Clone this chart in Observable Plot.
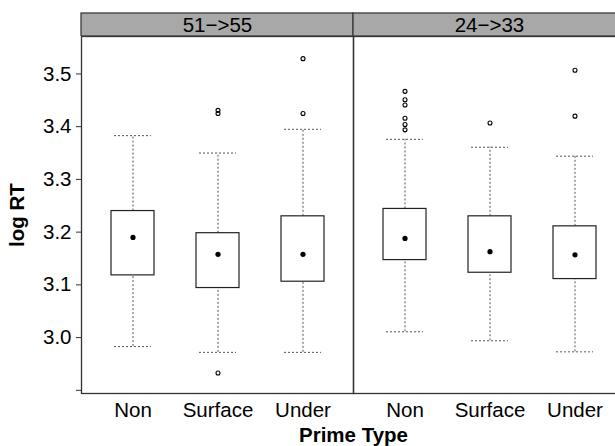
<!DOCTYPE html>
<html><head><meta charset="utf-8">
<script src="https://cdn.jsdelivr.net/npm/d3@7"></script>
<script src="https://cdn.jsdelivr.net/npm/@observablehq/plot@0.6"></script>
<style>
html,body{margin:0;padding:0;background:#fff;overflow:hidden;width:615px;height:446px}
#chart svg{max-width:none !important;display:block;background:transparent}
#chart{font-family:"Liberation Sans",Arial,sans-serif}
#chart [aria-label="y-axis label"], #chart [aria-label="fx-axis label"]{font-weight:bold}
</style></head><body><div id="chart"></div>
<script>
const panels = ["51−>55", "24−>33"];
const primeTypes = ["Non", "Surface", "Under"];
// rows: panels, columns: primeTypes
const whiskerLow  = [[2.983, 2.972, 2.972], [3.011, 2.994, 2.973]];
const quartile1   = [[3.118, 3.094, 3.106], [3.147, 3.123, 3.111]];
const medians     = [[3.190, 3.158, 3.158], [3.188, 3.163, 3.157]];
const quartile3   = [[3.240, 3.198, 3.230], [3.244, 3.230, 3.211]];
const whiskerHigh = [[3.383, 3.350, 3.395], [3.376, 3.361, 3.344]];
const outlierPanel = ["51−>55","51−>55","51−>55","51−>55","51−>55",
  "24−>33","24−>33","24−>33","24−>33","24−>33","24−>33","24−>33","24−>33","24−>33"];
const outlierType = ["Surface","Surface","Surface","Under","Under",
  "Non","Non","Non","Non","Non","Non","Surface","Under","Under"];
const outlierValue = [3.431, 3.425, 2.933, 3.529, 3.425,
  3.467, 3.451, 3.441, 3.416, 3.404, 3.394, 3.407, 3.507, 3.420];
const yTicks = [2.9, 3.0, 3.1, 3.2, 3.3, 3.4, 3.5];
const yTickLabels = ["", "3.0", "3.1", "3.2", "3.3", "3.4", "3.5"];
const yDomain = [2.894, 3.571];

const stats = [];
panels.forEach((p, i) => primeTypes.forEach((t, j) => stats.push({
  panel: p, type: t, lo: whiskerLow[i][j], q1: quartile1[i][j], med: medians[i][j],
  q3: quartile3[i][j], hi: whiskerHigh[i][j]
})));
const outliers = outlierValue.map((v, k) => ({panel: outlierPanel[k], type: outlierType[k], value: v}));

const font = {fontFamily: '"Liberation Sans", Arial, sans-serif', fontSize: "20.5px", background: "transparent"};

const strip = Plot.plot({
  width: 626, height: 36, marginTop: 13, marginBottom: 0, marginLeft: 81, marginRight: 1,
  style: font,
  x: {domain: panels, padding: 0, axis: null},
  marks: [
    Plot.cell(panels, {x: d => d, fill: "#a8a8a8", stroke: "#3a3a3a", strokeWidth: 1.3}),
    Plot.text(panels, {x: d => d, text: d => d, fill: "black", fontSize: 20.5})
  ]
});

const whisk = {stroke: "#555", strokeWidth: 1, strokeDasharray: "2,2"};
const main = Plot.plot({
  width: 626, height: 410, marginTop: 0, marginBottom: 53, marginLeft: 81, marginRight: 1,
  style: font,
  fx: {domain: panels, padding: 0},
  x: {domain: primeTypes, type: "band", paddingInner: 0.5, paddingOuter: 0.35},
  y: {domain: yDomain},
  marks: [
    Plot.ruleX(stats, {fx: "panel", x: "type", y1: "q3", y2: "hi", ...whisk}),
    Plot.ruleX(stats, {fx: "panel", x: "type", y1: "lo", y2: "q1", ...whisk}),
    Plot.tickY(stats, {fx: "panel", x: "type", y: "hi", insetLeft: 3, insetRight: 3, ...whisk}),
    Plot.tickY(stats, {fx: "panel", x: "type", y: "lo", insetLeft: 3, insetRight: 3, ...whisk}),
    Plot.barY(stats, {fx: "panel", x: "type", y1: "q1", y2: "q3", fill: "white", stroke: "#222", strokeWidth: 1.2}),
    Plot.dot(stats, {fx: "panel", x: "type", y: "med", r: 2.6, fill: "black", stroke: "none"}),
    Plot.dot(outliers, {fx: "panel", x: "type", y: "value", r: 2.0, fill: "none", stroke: "black", strokeWidth: 1.1}),
    Plot.frame({stroke: "#333", strokeWidth: 1.3}),
    Plot.axisY(yTicks, {anchor: "left", tickSize: 5, tickPadding: 5, tickFormat: d => yTickLabels[yTicks.indexOf(d)],
      label: "log RT", labelArrow: "none", labelAnchor: "center", labelOffset: 72, stroke: "#333"}),
    Plot.axisX({anchor: "bottom", tickSize: 0, tickPadding: 9, label: null}),
    Plot.axisFx({anchor: "bottom", tickSize: 0, tickFormat: () => "", label: "Prime Type", labelArrow: "none", labelAnchor: "center", labelOffset: 48})
  ]
});

const chart = document.getElementById("chart");
chart.appendChild(strip);
chart.appendChild(main);
</script></body></html>
